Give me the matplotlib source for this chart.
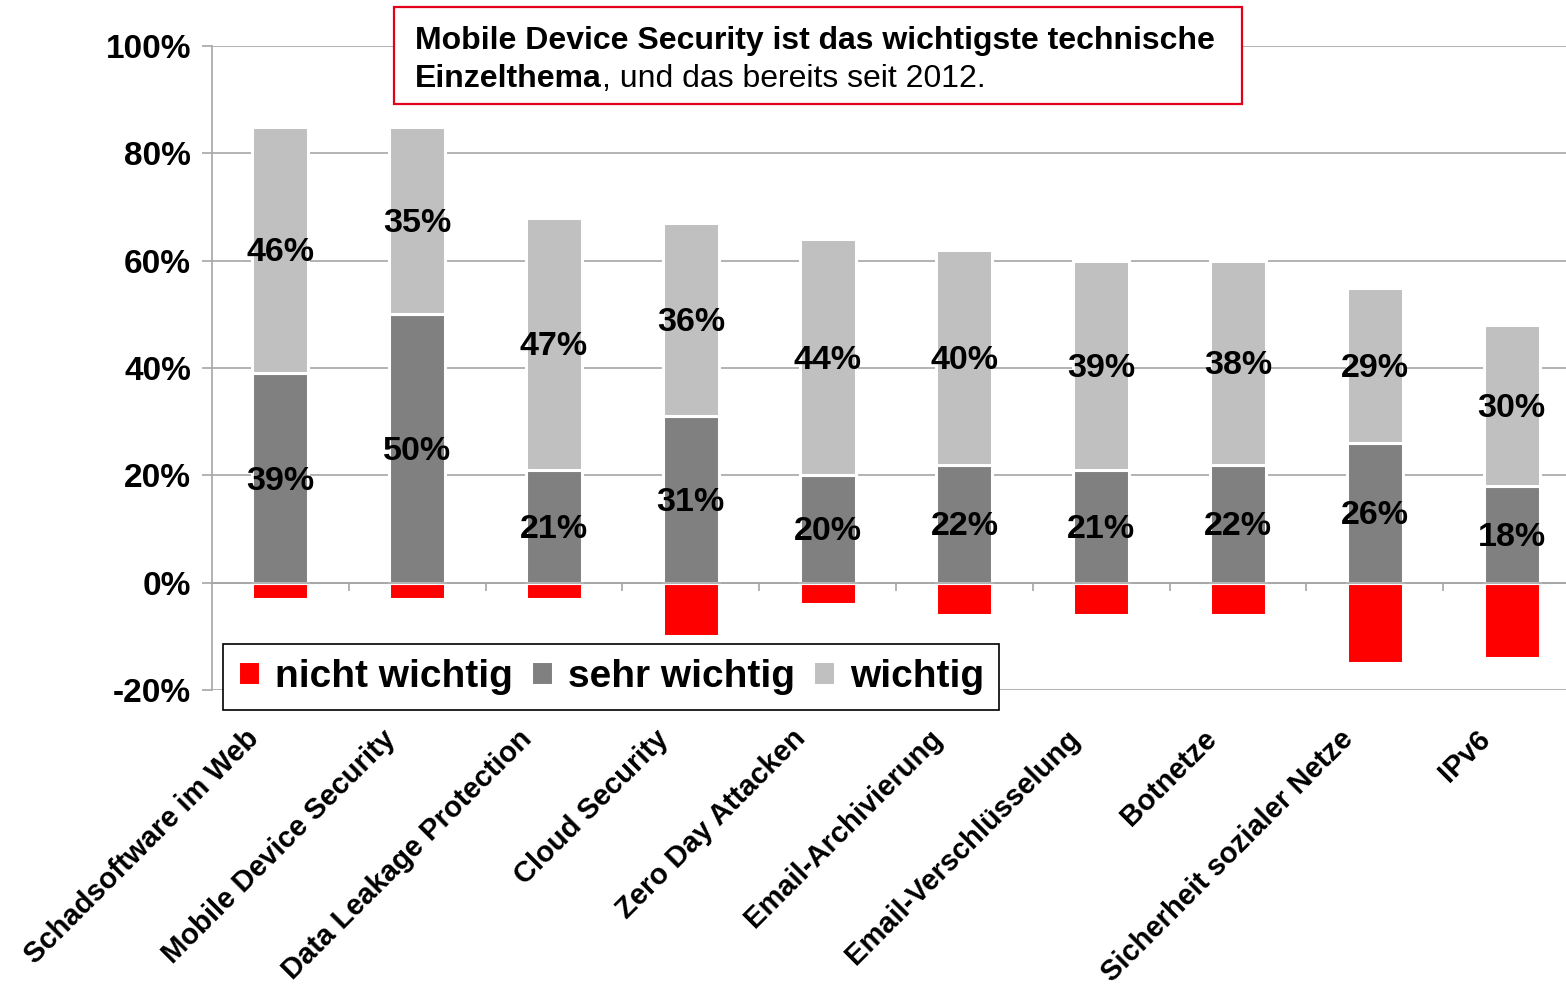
import matplotlib
matplotlib.use("Agg")
import matplotlib.pyplot as plt
import numpy as np
from matplotlib.patches import Rectangle
from matplotlib.transforms import offset_copy

plt.rcParams["font.family"] = ["Liberation Sans", "DejaVu Sans"]
plt.rcParams["font.weight"] = "bold"

# ---- data (percent) ----
categories = [
    "Schadsoftware im Web",
    "Mobile Device Security",
    "Data Leakage Protection",
    "Cloud Security",
    "Zero Day Attacken",
    "Email-Archivierung",
    "Email-Verschlüsselung",
    "Botnetze",
    "Sicherheit sozialer Netze",
    "IPv6",
]
sehr_wichtig = [39, 50, 21, 31, 20, 22, 21, 22, 26, 18]
wichtig = [46, 35, 47, 36, 44, 40, 39, 38, 29, 30]
nicht_wichtig = [3, 3, 3, 10, 4, 6, 6, 6, 15, 14]
y_ticks = [-20, 0, 20, 40, 60, 80, 100]

RED = "#FF0000"
DARK = "#808080"
LIGHT = "#C0C0C0"
GRID = "#A6A6A6"

W, H = 1566, 989
fig = plt.figure(figsize=(W / 100, H / 100), dpi=100)
# plot area runs a little past the right edge of the picture
ax = fig.add_axes([212 / W, 1 - 690 / H, (1580 - 212) / W, 644 / H])

x = np.arange(len(categories))
sw = np.array(sehr_wichtig)
w = np.array(wichtig)
nw = -np.array(nicht_wichtig)
bw = 0.41

b_nw = ax.bar(x, nw, bw, color=RED, edgecolor="white", lw=2.2, zorder=2, label="nicht wichtig")
b_sw = ax.bar(x, sw, bw, color=DARK, edgecolor="white", lw=2.2, zorder=2, label="sehr wichtig")
b_w = ax.bar(x, w, bw, bottom=sw, color=LIGHT, edgecolor="white", lw=2.2, zorder=2, label="wichtig")

# value labels in segment middles (nudged down a few px like the original)
lab_tr = offset_copy(ax.transData, fig=fig, x=0, y=-3, units="dots")
for i in x:
    ax.text(i, sw[i] / 2, f"{sw[i]}%", ha="center", va="center", fontsize=24.5,
            fontweight="bold", zorder=4, transform=lab_tr)
    ax.text(i, sw[i] + w[i] / 2, f"{w[i]}%", ha="center", va="center", fontsize=24.5,
            fontweight="bold", zorder=4, transform=lab_tr)

# axes styling
ax.set_xlim(-0.5, len(categories) - 0.5)
ax.set_ylim(-20, 100)
ax.set_yticks(y_ticks)
ax.set_yticklabels([f"{v}%" for v in y_ticks], fontsize=24, fontweight="bold")
ax.yaxis.grid(True, color=GRID, lw=1.2, zorder=0)
ax.set_axisbelow(True)
ax.tick_params(axis="y", length=7, width=1.2, color=GRID, pad=8)

ax.spines["top"].set_visible(False)
ax.spines["right"].set_visible(False)
ax.spines["left"].set_color(GRID)
ax.spines["left"].set_linewidth(1.2)
ax.spines["bottom"].set_position(("data", 0))
ax.spines["bottom"].set_color(GRID)
ax.spines["bottom"].set_linewidth(1.2)
ax.set_xticks(x[:-1] + 0.5)
ax.set_xticklabels([])
ax.tick_params(axis="x", length=6, width=1.2, color=GRID, direction="out")

# rotated category labels below the plot
for i, lab in enumerate(categories):
    ax.text(i - 0.19, -28.3, lab, rotation=45, ha="right", va="center",
            rotation_mode="anchor", fontsize=21, fontweight="bold", clip_on=False)

# legend
leg = ax.legend(handles=[b_nw, b_sw, b_w], loc="lower left",
                bbox_to_anchor=(0.008, -0.031), borderaxespad=0, ncol=3,
                prop={"weight": "bold", "size": 28},
                handlelength=0.57, handleheight=0.57, handletextpad=0.39,
                columnspacing=0.46, borderpad=0.38, fancybox=False, framealpha=1)
leg.get_frame().set_edgecolor("black")
leg.get_frame().set_linewidth(1.2)
leg.set_zorder(6)

# headline box
box = Rectangle((394 / W, 1 - 104 / H), (1242 - 394) / W, 97 / H,
                transform=fig.transFigure, facecolor="white", edgecolor="#E2001A",
                lw=1.6, zorder=5)
fig.add_artist(box)
fig.text(415 / W, 1 - 41 / H, "Mobile Device Security ist das wichtigste technische",
         fontsize=23, fontweight="bold", va="center", ha="left", zorder=6)
t2 = fig.text(415 / W, 1 - 79 / H, "Einzelthema", fontsize=23, fontweight="bold",
              va="center", ha="left", zorder=6)
fig.add_artist(plt.Annotation(", und das bereits seit 2012.", xy=(1, 0), xycoords=t2,
                              va="bottom", ha="left", fontsize=23,
                              fontweight="normal", zorder=6))

fig.savefig("out.png", dpi=100)
